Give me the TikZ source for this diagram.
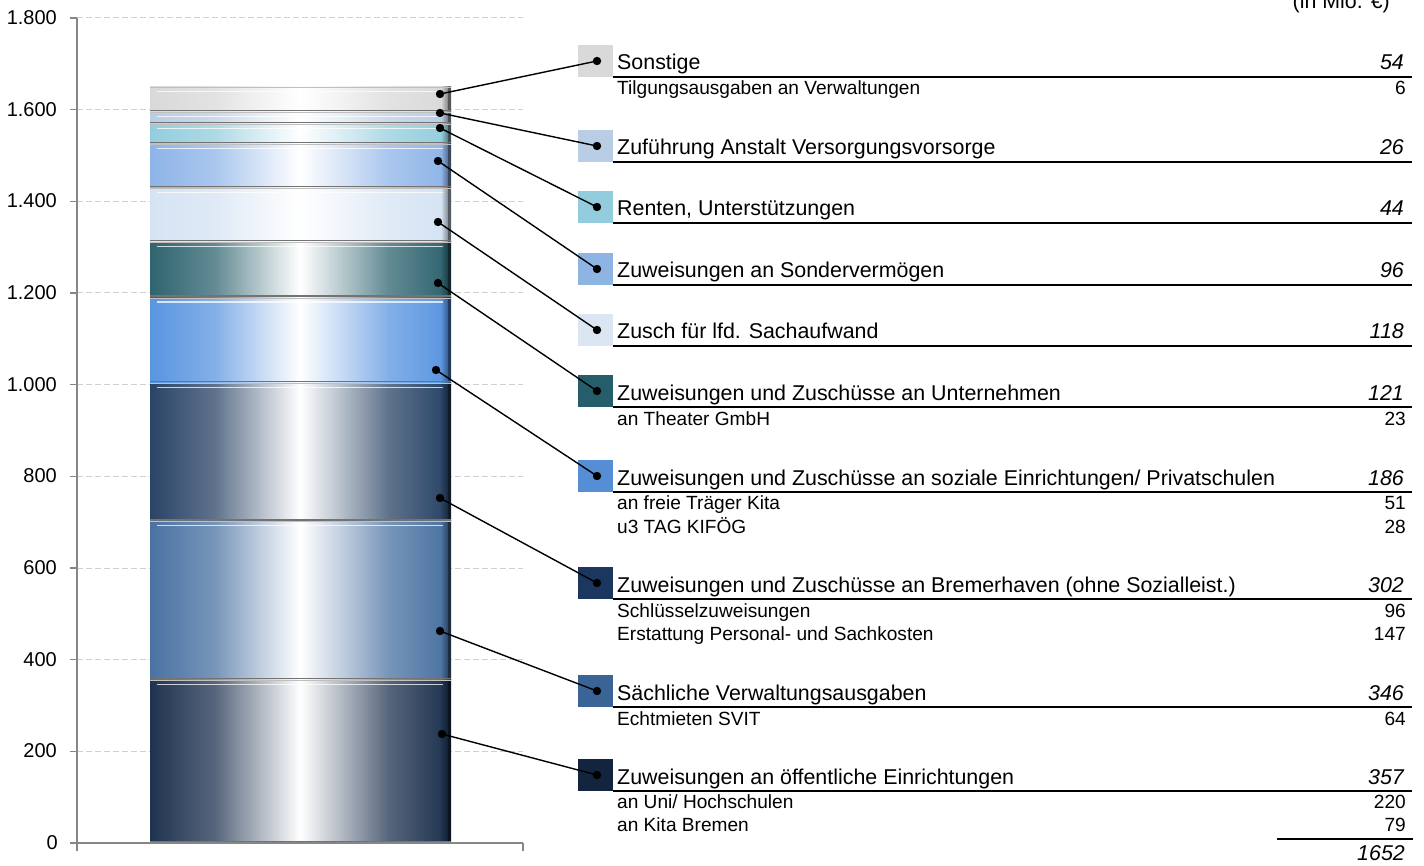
\documentclass[tikz,border=0pt]{standalone}
\usepackage{fontspec}
\setmainfont{Liberation Sans}
\definecolor{cA}{HTML}{1F3350}
\definecolor{cB}{HTML}{4A72A2}
\definecolor{cC}{HTML}{2A4466}
\definecolor{cD}{HTML}{5A95E0}
\definecolor{cE}{HTML}{2F6470}
\definecolor{cF}{HTML}{D5E3F3}
\definecolor{cG}{HTML}{8EB4E8}
\definecolor{cH}{HTML}{93CDDD}
\definecolor{cI}{HTML}{B9CDE5}
\definecolor{cJ}{HTML}{D9D9D9}
\definecolor{lA}{HTML}{13243F}
\definecolor{lB}{HTML}{3A6496}
\definecolor{lC}{HTML}{1B365F}
\definecolor{lD}{HTML}{558ED5}
\definecolor{lE}{HTML}{255E6A}
\definecolor{lF}{HTML}{DCE6F2}
\definecolor{lG}{HTML}{8EB4E3}
\definecolor{lH}{HTML}{93CDDD}
\definecolor{lI}{HTML}{B9CDE5}
\definecolor{lJ}{HTML}{D9D9D9}
\definecolor{axgray}{HTML}{868686}
\definecolor{gridgray}{HTML}{D0D0D0}
\tikzset{
  mainfont/.style={font=\fontsize{21.4}{25}\selectfont, inner sep=0pt},
  valfont/.style={font=\fontsize{21.4}{25}\selectfont\itshape, inner sep=0pt},
  subfont/.style={font=\fontsize{19.1}{22}\selectfont, inner sep=0pt},
  axlabel/.style={font=\fontsize{20}{24}\selectfont, inner sep=0pt, anchor=base east},
  sqbox/.style={minimum width=35pt, minimum height=32pt, inner sep=0pt, draw=none},
  uline/.style={line width=1.2pt, black},
  conn/.style={line width=1.4pt, black},
  grid line/.style={gridgray, line width=1pt, dash pattern=on 6pt off 3pt},
  axis line/.style={axgray, line width=1.5pt},
}
\newcommand{\barseg}[3]{%
  \shade[left color=#3, right color=#3!75!white] (150,#1) rectangle (215.2,#2);
  \shade[left color=#3!75!white, right color=#3!35!white] (215,#1) rectangle (260.2,#2);
  \shade[left color=#3!35!white, right color=white] (260,#1) rectangle (300.2,#2);
  \shade[left color=white, right color=#3!35!white] (300,#1) rectangle (342.2,#2);
  \shade[left color=#3!35!white, right color=#3!75!white] (342,#1) rectangle (388.2,#2);
  \shade[left color=#3!75!white, right color=#3] (388,#1) rectangle (446.2,#2);
  \shade[left color=#3, right color=#3!45!black] (441,#1) rectangle (451,#2);
  \fill[#3!40!black] (448,#1) rectangle (451,#2);
  \draw[white, opacity=.75, line width=1.2pt] (157,#1+5) -- (443,#1+5);
  \draw[black!55, line width=1.6pt] (150,#2-1) -- (451,#2-1);
  \draw[black!25, line width=1pt] (150,#1+1) -- (451,#1+1);
}
\newcommand{\legrow}[5]{%
  \node[sqbox, fill=#3] (s#1) at (595.5,#2-16) {};
  \coordinate (d#1) at (597,#2-16);
  \node[mainfont, anchor=base west] (t#1) at (617,#2-7) {#4};
  \node[valfont, anchor=base east] (v#1) at (1404,#2-7) {#5};
  \draw[uline] (613,#2) -- (1412,#2);
}
\newcommand{\subrow}[4]{%
  \node[subfont, anchor=base west] (u#1) at (617,#2) {#3};
  \node[subfont, anchor=base east] (w#1) at (1406,#2) {#4};
}
\begin{document}
\begin{tikzpicture}[x=1pt,y=-1pt]
\useasboundingbox (0,0) rectangle (1424,866);
% grid lines
\foreach \yy in {18,109.67,201.33,293,384.67,476.33,568,659.67,751.33} {
  \draw[grid line] (77,\yy) -- (523,\yy);
  \draw[axis line] (70,\yy) -- (77,\yy);
}
% axis labels
\node[axlabel] (y0) at (58,849.5) {0};
\node[axlabel] (y1) at (57,757.8) {200};
\node[axlabel] (y2) at (57,666.2) {400};
\node[axlabel] (y3) at (57,574.5) {600};
\node[axlabel] (y4) at (57,482.8) {800};
\node[axlabel] (y5) at (57,391.2) {1.000};
\node[axlabel] (y6) at (57,299.5) {1.200};
\node[axlabel] (y7) at (57,207.8) {1.400};
\node[axlabel] (y8) at (57,116.2) {1.600};
\node[axlabel] (y9) at (57,24.5) {1.800};
% bar segments
\barseg{679.4}{843}{cA}
\barseg{520.8}{679.4}{cB}
\barseg{382.4}{520.8}{cC}
\barseg{297.1}{382.4}{cD}
\barseg{241.7}{297.1}{cE}
\barseg{187.6}{241.7}{cF}
\barseg{143.6}{187.6}{cG}
\barseg{123.4}{143.6}{cH}
\barseg{111.5}{123.4}{cI}
\barseg{86.75}{111.5}{cJ}
% axes
\draw[axis line] (77,18) -- (77,843);
\draw[axis line] (70,843) -- (523,843);
\draw[axis line] (77,843) -- (77,851);
\draw[axis line] (523,843) -- (523,851);
% unit
\node[mainfont, anchor=base east] (unit) at (1390,9) {(in Mio. €)};
% legend
\legrow{1}{77}{lJ}{Sonstige}{54}
\subrow{1}{95}{Tilgungsausgaben an Verwaltungen}{6}
\legrow{2}{162}{lI}{Zuführung Anstalt Versorgungsvorsorge}{26}
\legrow{3}{223}{lH}{Renten, Unterstützungen}{44}
\legrow{4}{285}{lG}{Zuweisungen an Sondervermögen}{96}
\legrow{5}{346}{lF}{Zusch für lfd. Sachaufwand}{118}
\legrow{6}{407}{lE}{Zuweisungen und Zuschüsse an Unternehmen}{121}
\subrow{6}{425}{an Theater GmbH}{23}
\legrow{7}{492}{lD}{Zuweisungen und Zuschüsse an soziale Einrichtungen/ Privatschulen}{186}
\subrow{7a}{509.5}{an freie Träger Kita}{51}
\subrow{7b}{533}{u3 TAG KIFÖG}{28}
\legrow{8}{599}{lC}{Zuweisungen und Zuschüsse an Bremerhaven (ohne Sozialleist.)}{302}
\subrow{8a}{617}{Schlüsselzuweisungen}{96}
\subrow{8b}{640.5}{Erstattung Personal- und Sachkosten}{147}
\legrow{9}{707}{lB}{Sächliche Verwaltungsausgaben}{346}
\subrow{9}{725}{Echtmieten SVIT}{64}
\legrow{10}{791}{lA}{Zuweisungen an öffentliche Einrichtungen}{357}
\subrow{10a}{808.5}{an Uni/ Hochschulen}{220}
\subrow{10b}{831}{an Kita Bremen}{79}
% total
\coordinate (tl) at (1277,839);
\coordinate (tr) at (1413,839);
\draw[uline] (tl) -- (tr);
\node[valfont, anchor=base east] (total) at (1405,860) {1652};
% bar anchor points
\coordinate (b1) at (440,94);
\coordinate (b2) at (440,113);
\coordinate (b3) at (440,128);
\coordinate (b4) at (438,161);
\coordinate (b5) at (438,222);
\coordinate (b6) at (438,283);
\coordinate (b7) at (436,370);
\coordinate (b8) at (440,498);
\coordinate (b9) at (440,631);
\coordinate (b10) at (442,734);
\foreach \i in {1,...,10} {
  \draw[conn] (b\i) -- (d\i);
  \fill (b\i) circle (4.2pt);
  \fill (d\i) circle (4.2pt);
}
\end{tikzpicture}
\end{document}
